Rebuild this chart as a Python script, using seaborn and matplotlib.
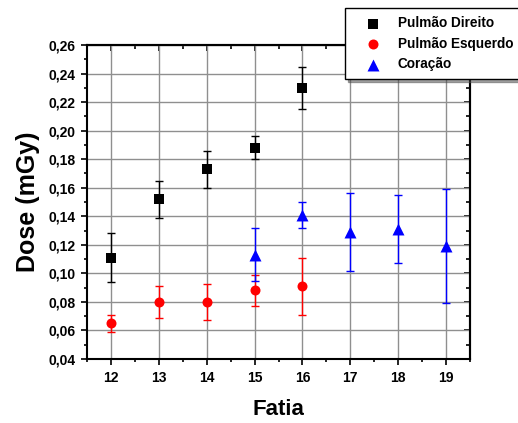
import numpy as np
import pandas as pd
import seaborn as sns
import matplotlib
matplotlib.use("Agg")
import matplotlib.pyplot as plt
from matplotlib.ticker import MultipleLocator, FuncFormatter, NullFormatter

# Dose per slice for each organ (mean and error)
fatia_dir = [12, 13, 14, 15, 16]
dose_dir = [0.111, 0.152, 0.173, 0.188, 0.230]
err_dir = [0.017, 0.013, 0.013, 0.008, 0.0145]

fatia_esq = [12, 13, 14, 15, 16]
dose_esq = [0.065, 0.080, 0.080, 0.088, 0.091]
err_esq = [0.006, 0.011, 0.0125, 0.011, 0.020]

fatia_cor = [15, 16, 17, 18, 19]
dose_cor = [0.113, 0.141, 0.129, 0.131, 0.119]
err_cor = [0.0186, 0.009, 0.0273, 0.024, 0.040]

series_names = ["Pulmão Direito", "Pulmão Esquerdo", "Coração"]
colors = ["#000000", "#ff0000", "#0000ff"]
markers = ["s", "o", "^"]
sizes = [7.0, 7.2, 8.6]

df = pd.concat([
    pd.DataFrame({"Fatia": fatia_dir, "Dose": dose_dir, "Erro": err_dir, "Orgao": series_names[0]}),
    pd.DataFrame({"Fatia": fatia_esq, "Dose": dose_esq, "Erro": err_esq, "Orgao": series_names[1]}),
    pd.DataFrame({"Fatia": fatia_cor, "Dose": dose_cor, "Erro": err_cor, "Orgao": series_names[2]}),
], ignore_index=True)

sns.set_theme(style="white")
plt.rcParams["font.family"] = ["Liberation Sans", "DejaVu Sans"]
plt.rcParams["font.weight"] = "bold"
for key in ["text.color", "axes.labelcolor", "xtick.color", "ytick.color", "axes.edgecolor"]:
    plt.rcParams[key] = "black"

fig = plt.figure(figsize=(5.18, 4.23), dpi=100)
ax = fig.add_axes([87 / 518, 1 - 359 / 423, (470 - 87) / 518, (359 - 45) / 423])

# error bars first, markers on top
for name, col in zip(series_names, colors):
    sub = df[df["Orgao"] == name]
    ax.errorbar(sub["Fatia"], sub["Dose"], yerr=sub["Erro"], fmt="none",
                ecolor=col, elinewidth=1.0, capsize=3, capthick=1.0, zorder=3)

for name, col, mk, ms in zip(series_names, colors, markers, sizes):
    sub = df[df["Orgao"] == name]
    sns.scatterplot(data=sub, x="Fatia", y="Dose", ax=ax, color=col, marker=mk,
                    s=(ms) ** 2, linewidth=0, label=name, zorder=4)

ax.set_xlim(11.5, 19.5)
ax.set_ylim(0.04, 0.26)
ax.xaxis.set_major_locator(MultipleLocator(1))
ax.xaxis.set_minor_locator(MultipleLocator(0.5))
ax.yaxis.set_major_locator(MultipleLocator(0.02))
ax.yaxis.set_minor_locator(MultipleLocator(0.01))
ax.yaxis.set_major_formatter(FuncFormatter(lambda v, p: f"{v:.2f}".replace(".", ",")))

ax.grid(True, which="major", color="#8f8f8f", linewidth=1.0)
ax.set_axisbelow(True)

for s in ax.spines.values():
    s.set_color("black")
    s.set_linewidth(1.5)

ax.tick_params(which="major", direction="out", length=4.5, width=1.2, color="black",
               labelsize=10, pad=4, top=False, right=False, bottom=True, left=True)
ax.tick_params(which="minor", direction="out", length=2.5, width=1.2, color="black",
               top=False, right=False, bottom=True, left=True)
for lbl in ax.get_xticklabels() + ax.get_yticklabels():
    lbl.set_fontweight("bold")

# mirrored axes with inward ticks
top = ax.secondary_xaxis("top")
top.xaxis.set_major_locator(MultipleLocator(1))
top.xaxis.set_minor_locator(MultipleLocator(0.5))
top.xaxis.set_major_formatter(NullFormatter())
top.tick_params(which="major", direction="in", length=4.5, width=1.2)
top.tick_params(which="minor", direction="in", length=3, width=1.2)
top.spines["top"].set_linewidth(1.5)

right = ax.secondary_yaxis("right")
right.yaxis.set_major_locator(MultipleLocator(0.02))
right.yaxis.set_minor_locator(MultipleLocator(0.01))
right.yaxis.set_major_formatter(NullFormatter())
right.tick_params(which="major", direction="in", length=4.5, width=1.2)
right.tick_params(which="minor", direction="in", length=3, width=1.2)
right.spines["right"].set_linewidth(1.5)

ax.set_xlabel("Fatia", fontsize=16, fontweight="bold", labelpad=10)
ax.set_ylabel("Dose (mGy)", fontsize=18, fontweight="bold", labelpad=6)

ax.legend_.remove()
handles, labels = ax.get_legend_handles_labels()
leg = fig.legend(handles, labels, loc="upper left",
                 bbox_to_anchor=(345 / 518, 1 - 8 / 423),
                 frameon=True, fancybox=False, shadow=True, edgecolor="black",
                 prop={"weight": "bold", "size": 9.8}, borderpad=0.6,
                 labelspacing=0.48, handletextpad=0.42, borderaxespad=0,
                 handlelength=2.86)
leg.get_frame().set_linewidth(1.0)

fig.savefig("out.png", dpi=100)
